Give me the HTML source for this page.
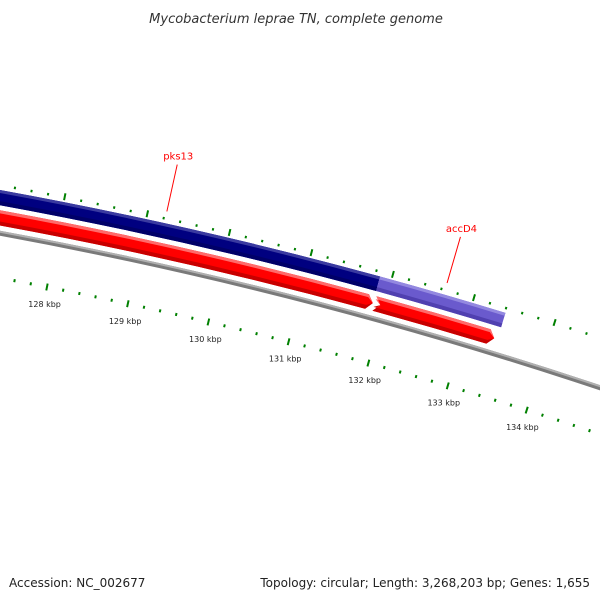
<!DOCTYPE html>
<html><head><meta charset="utf-8"><style>
html,body{margin:0;padding:0;background:#fff}
svg{display:block}
text{font-family:"DejaVu Sans","Liberation Sans",sans-serif}
</style></head><body>
<svg id="map" width="600" height="600" viewBox="0 0 600 600" xmlns="http://www.w3.org/2000/svg">
<text x="296" y="23" text-anchor="middle" font-size="13" font-style="italic" fill="#333">Mycobacterium leprae TN, complete genome</text>
<g id="layer"></g>
<text x="9" y="587" font-size="12" fill="#222">Accession: NC_002677</text>
<text x="590" y="587" text-anchor="end" font-size="12" fill="#222">Topology: circular; Length: 3,268,203 bp; Genes: 1,655</text>
</svg>
<script>
// data
const tickStart = 126400;
const tickEnd = 135400;
const tickStep = 200;
const majorKbp = [128, 129, 130, 131, 132, 133, 134];
const featureNames = ["pks13", "accD4-fwd", "red-1", "red-2"];
const featureStarts = [120000, 131860, 120000, 131880];
const featureEnds = [131860, 133410, 131860, 133370];
const labelNames = ["pks13", "accD4"];
const labelBp = [129220, 132645];

// geometry
const cx = -798, cy = 4574;
const a0 = 11.15, k = 0.001083;
function ang(bp){ return a0 + (bp - 128000) * k; }
function pt(r, a){ const t = a * Math.PI / 180; return [cx + r * Math.sin(t), cy - r * Math.cos(t)]; }
const NS = "http://www.w3.org/2000/svg";
const layer = document.getElementById("layer");
function mk(tag, attrs){ const e = document.createElementNS(NS, tag); for (const a in attrs) e.setAttribute(a, attrs[a]); layer.appendChild(e); return e; }
function band(r1, r2, a1, a2, arrow, notch, rmOverride){
  const rm = rmOverride || (r1 + r2) / 2;
  const da = 6 / rm * 180 / Math.PI;
  const e2 = arrow ? a2 - da : a2;
  const p1 = pt(r2, a1), p2 = pt(r2, e2), p3 = pt(r1, e2), p4 = pt(r1, a1);
  let d = "M" + p1 + " A" + r2 + " " + r2 + " 0 0 1 " + p2;
  if (arrow){ d += " L" + pt(rm, a2); }
  d += " L" + p3 + " A" + r1 + " " + r1 + " 0 0 0 " + p4;
  if (notch){ d += " L" + pt(rm, a1 + da); }
  d += " Z";
  return d;
}
const vis1 = 9.5, vis2 = 19.5;
// backbone
const bb = mk("path", {d: band(4411, 4416, vis1, vis2, false, false), fill: "#7a7a7a"});


const bb2 = mk("path", {d: band(4414, 4416, vis1, vis2, false, false), fill: "#b0b0b0"});


// features
const fills = ["#000080", "#6a5acd", "#ff0000", "#ff0000"];
const lights = ["#3a3aa0", "#9388e0", "#ff6a6a", "#ff6a6a"];
const darks = ["#000068", "#5040b0", "#c80000", "#c80000"];
const rIn = [4441, 4441, 4421, 4421], rOut = [4456, 4456, 4436, 4436];
const arrows = [false, false, true, true], notches = [false, false, false, true];
for (let i = 0; i < featureNames.length; i++){
  const a1 = ang(featureStarts[i]), a2 = ang(featureEnds[i]);
  const rm = (rIn[i] + rOut[i]) / 2;
  const p = mk("path", {d: band(rIn[i], rOut[i], a1, a2, arrows[i], notches[i]), fill: fills[i]});
  
  
  const h = mk("path", {d: band(rOut[i] - 3, rOut[i], a1, a2, arrows[i], notches[i], rm), fill: lights[i]});
  
  
  const s = mk("path", {d: band(rIn[i], rIn[i] + 4, a1, a2, arrows[i], notches[i], rm), fill: darks[i]});
  
  
}
// ticks
for (let bp = tickStart; bp <= tickEnd; bp += tickStep){
  const major = bp % 1000 === 0;
  const a = ang(bp);
  const o1 = pt(major ? 4458 : 4459.5, a), o2 = pt(major ? 4465 : 4462, a);
  const t1 = mk("line", {x1: o1[0], y1: o1[1], x2: o2[0], y2: o2[1], stroke: "#008000", "stroke-width": 2});
  
  
  const i1 = pt(major ? 4366 : 4368, a), i2 = pt(major ? 4373 : 4371, a);
  const t2 = mk("line", {x1: i1[0], y1: i1[1], x2: i2[0], y2: i2[1], stroke: "#008000", "stroke-width": 2});
  
  
}
for (let i = 0; i < majorKbp.length; i++){
  const p = pt(4352, ang(majorKbp[i] * 1000));
  const t = mk("text", {x: p[0] + 1, y: p[1] + 3, "text-anchor": "middle", "font-size": 8, fill: "#222"});
  t.textContent = majorKbp[i] + " kbp";
  
  
}
// feature labels
for (let i = 0; i < labelNames.length; i++){
  const a = ang(labelBp[i]);
  const s = pt(4468, a), e = pt(4516, a);
  const l = mk("line", {x1: s[0], y1: s[1], x2: e[0], y2: e[1], stroke: "#ff0000", "stroke-width": 1});
  
  
  const t = mk("text", {x: e[0] + 1, y: e[1] - 5, "text-anchor": "middle", "font-size": 10, fill: "#ff0000"});
  t.textContent = labelNames[i];
  
  
}
</script>
</body></html>
